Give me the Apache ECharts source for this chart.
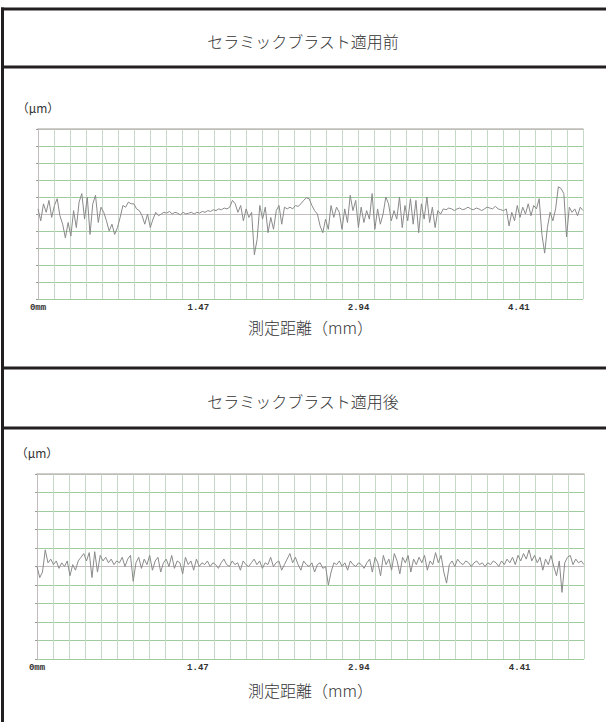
<!DOCTYPE html>
<html>
<head>
<meta charset="utf-8">
<style>
  html, body { margin: 0; padding: 0; background: #fff; }
  #chart { width: 606px; height: 722px; }
</style>
<script src="https://cdn.jsdelivr.net/npm/echarts@6/dist/echarts.min.js"></script>
</head>
<body>
<div id="chart"></div>
<script>
// titles of the two table rows
const headings = ['セラミックブラスト適用前', 'セラミックブラスト適用後']
const axisName = '測定距離（mm）'
const unitName = '（μm）'

// x axis: 34 grid divisions of 0.147 mm, labelled every 10 divisions
const gridStep = 0.147
const xMax = 4.998
const tickLabels = [0, 1.47, 2.94, 4.41]

// roughness profile, in grid divisions (evenly spaced along x)
const beforeProfile = [
  0.3, -0.4, 0.6, 0.1, 0.8, -0.2, 0.5, 0.9, -0.1,
  -0.6, -1.4, -0.5, -1.3,
  0.2, -0.8, 0.7, 1.2, -0.3, 1.0, -1.2, 0.6, 1.1, -0.5, 0.4, 0.1,
  -0.4, -1.0, -0.6, -1.2, -0.8,
  -0.2, 0.5, 0.4, 0.7, 0.6, 0.6, 0.3,
  0.2, -0.1, -0.6, 0.0, -0.8, -0.3, 0.1, -0.1,
  0.0, 0.1, 0.05, 0.15, 0.0, 0.1, 0.05, -0.05, 0.1, 0.0,
  0.05, 0.1, 0.0, 0.1, 0.05, 0.15, 0.1, 0.2, 0.15, 0.25,
  0.2, 0.3, 0.25, 0.35, 0.3, 0.4,
  0.8, 0.6,
  0.1, 0.5, -0.4, 0.3, -0.2, 0.1,
  -2.4, -1.5,
  0.5, -0.3, 0.4,
  -1.1, -0.2, -0.9, 0.2,
  0.5, -0.6, 0.4, 0.3,
  0.4, 0.3, 0.5, 0.45,
  0.6, 0.8, 0.95, 0.9,
  0.5, 0.2, 0.0,
  -0.7, -1.1, -0.3, -0.9,
  0.5, -0.2, 0.4, 0.1,
  -0.9, 0.3, -0.5,
  1.1, 0.2, 0.8,
  -0.8, 0.4, -0.5, 0.2, -0.3,
  1.2,
  -0.9, 0.3, -0.6, 0.0,
  1.0, 0.6,
  -0.4, 0.2, -0.3, 1.0,
  -0.8, 0.5, -0.4, 0.9, -0.6,
  0.8, -1.1, 0.6, -0.3, 1.0, -0.5, 0.4, -0.8, 0.2, 0.0,
  0.3, 0.25, 0.35, 0.3, 0.2, 0.3, 0.35, 0.25, 0.3, 0.4,
  0.3, 0.25, 0.35, 0.3, 0.2, 0.3, 0.4, 0.35, 0.3, 0.45,
  0.3, 0.25, 0.2, 0.3,
  -0.7, 0.1, -0.4,
  0.5, -0.2, 0.4, 0.0, 0.6, -0.1, 0.5, 0.3,
  0.9,
  -1.2, -2.3,
  -0.8, 0.1, -0.4, 0.3,
  1.6, 1.5, 1.2,
  -1.35,
  0.4, 0.1, 0.3, -0.1, 0.4, 0.2
]

const afterProfile = [
  0.0, -0.6, -0.3, 0.9, 0.2, 0.4, 0.1, 0.3, -0.1, 0.2,
  0.0, 0.3, -0.5, 0.1, -0.2, 0.3,
  0.5, 0.7, 0.3, 0.75,
  -0.6, 0.8, -0.3, 0.6,
  0.3, 0.5, 0.2, 0.4, 0.1, 0.3, 0.2, 0.5, 0.0, 0.4, 0.6,
  -0.8,
  0.2, 0.5, -0.1, 0.4, 0.1, 0.6, -0.2, 0.3, 0.5, -0.3,
  0.2, 0.4, 0.0, 0.6, -0.1, 0.3, 0.2, -0.4, 0.5, 0.1,
  0.3, -0.2, 0.4, 0.0, 0.2,
  0.1, 0.3, 0.0, 0.2, 0.1, -0.1, 0.2, 0.4, 0.1, 0.0,
  0.3, 0.1, 0.2, -0.2, 0.3, 0.1, 0.0, 0.2, 0.4, 0.1,
  0.3, -0.1, 0.2, 0.1, 0.5, 0.0, 0.2, 0.3, -0.2, 0.1,
  0.4, 0.7, 0.2, 0.5,
  0.1, -0.2, 0.3, 0.1, 0.0, 0.2, -0.3, 0.1, 0.2, -0.1,
  0.0, -1.0, -0.3, 0.2, 0.1, 0.3, 0.0, 0.2, -0.2, 0.3,
  0.1, 0.0, 0.2, 0.1, -0.1, 0.2,
  0.4, -0.3, 0.5, 0.2, -0.5, 0.6, 0.1, 0.4, -0.2, 0.7,
  0.3, -0.4, 0.5, 0.2, 0.6, -0.3, 0.4, 0.1, 0.5, 0.2,
  0.6,
  -0.2, 0.3, 0.1, 0.75, 0.2, 0.6, -0.3, -0.9, 0.1,
  0.3, 0.0, 0.4, 0.2, 0.1, 0.3, 0.2, 0.0, 0.2, 0.3,
  0.1, 0.2, 0.0, 0.2, 0.1, 0.3, 0.2, 0.0, 0.3, 0.1,
  0.4, 0.2, 0.5, 0.1, 0.6, 0.3, 0.7, 0.4,
  0.9, 0.3, 0.6,
  0.2, 0.5, -0.2, 0.4, 0.1, 0.6, 0.0, -0.5, 0.3, -1.4,
  0.2, 0.5, 0.6, 0.1, 0.4, 0.2, 0.3, 0.1
]

const grids = [
  { left: 38, top: 129, width: 545, height: 170, nameGap: 20 },
  { left: 37, top: 474, width: 547, height: 185, nameGap: 23 }
]

const jpFont = '"Noto Sans CJK JP", sans-serif'

function toPoints(profile) {
  const step = xMax / (profile.length - 1)
  return profile.map((v, i) => [i * step, v])
}

const chart = echarts.init(document.getElementById('chart'), null, { renderer: 'svg' })

const xAxes = []
const yAxes = []
grids.forEach((g, i) => {
  // bottom axis: grid lines + distance labels
  xAxes.push({
    type: 'value',
    gridIndex: i,
    min: 0,
    max: xMax,
    interval: gridStep,
    name: axisName,
    nameLocation: 'middle',
    nameGap: g.nameGap,
    nameTextStyle: { fontFamily: jpFont, fontSize: 16, color: '#333', fontWeight: 300 },
    axisLine: { show: true, lineStyle: { color: '#c4bcbc', width: 1 } },
    axisTick: { show: false },
    axisLabel: {
      customValues: tickLabels,
      margin: 4,
      fontFamily: '"Liberation Mono", monospace',
      fontWeight: 'bold',
      fontSize: 9,
      color: '#333',
      formatter: v => (v === 0 ? '0mm' : v.toFixed(2))
    },
    splitLine: { show: true, lineStyle: { color: '#c6d8c6', width: 1 } }
  })
  // top edge of the plot
  xAxes.push({
    type: 'value',
    gridIndex: i,
    position: 'top',
    min: 0,
    max: xMax,
    axisLine: { show: true, lineStyle: { color: '#c4bcbc', width: 1.5 } },
    axisTick: { show: false },
    axisLabel: { show: false },
    splitLine: { show: false }
  })
  yAxes.push({
    type: 'value',
    gridIndex: i,
    min: -5,
    max: 5,
    interval: 1,
    name: unitName,
    nameGap: 16,
    nameTextStyle: { fontFamily: jpFont, fontSize: 12, color: '#333' },
    axisLine: { show: true, lineStyle: { color: '#c4bcbc', width: 1 } },
    axisTick: { show: true, length: 2, lineStyle: { color: '#999' } },
    axisLabel: { show: false },
    splitLine: { show: true, lineStyle: { color: '#9fcb9f', width: 1 } }
  })
})

// table frame
const frame = { stroke: '#231f20', lineWidth: 3 }
const hLines = [9, 67, 368, 428]

chart.setOption({
  animation: false,
  backgroundColor: '#fff',
  title: headings.map((t, i) => ({
    text: t,
    left: 'center',
    top: i === 0 ? 28 : 388,
    textStyle: { fontFamily: jpFont, fontSize: 16, fontWeight: 300, color: '#333' }
  })),
  grid: grids.map(g => ({ left: g.left, top: g.top, width: g.width, height: g.height })),
  xAxis: xAxes,
  yAxis: yAxes,
  series: [beforeProfile, afterProfile].map((p, i) => ({
    type: 'line',
    xAxisIndex: i * 2,
    yAxisIndex: i,
    data: toPoints(p),
    showSymbol: false,
    lineStyle: { color: '#8a8a8a', width: 1 }
  })),
  graphic: [
    { type: 'line', shape: { x1: 2.5, y1: 7.5, x2: 2.5, y2: 722 }, style: frame, silent: true },
    ...hLines.map(y => ({
      type: 'line', shape: { x1: 1, y1: y, x2: 606, y2: y }, style: frame, silent: true
    }))
  ]
})
</script>
</body>
</html>
